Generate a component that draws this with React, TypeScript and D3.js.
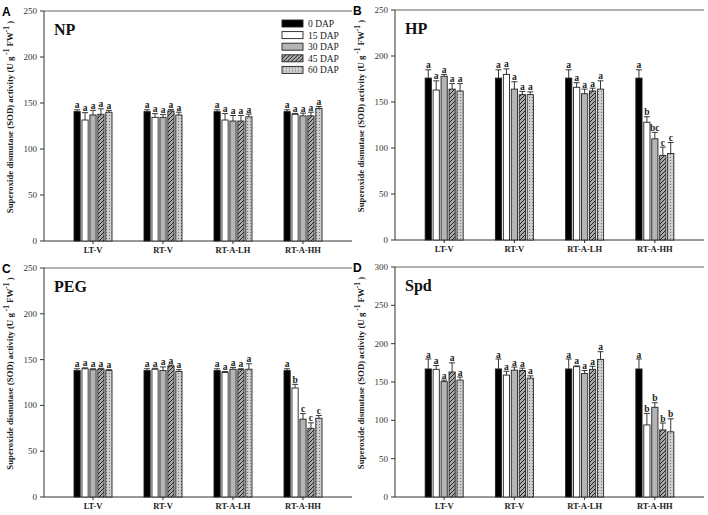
import * as d3 from 'd3';

const categories = ['LT-V', 'RT-V', 'RT-A-LH', 'RT-A-HH'];
const days = ['0 DAP', '15 DAP', '30 DAP', '45 DAP', '60 DAP'];

// NP
const npValues = [
  [140.6, 131.5, 137, 137.7, 140],
  [140.6, 134.4, 134.4, 141.3, 137],
  [140.6, 131.5, 130.4, 130.4, 135],
  [140.6, 137.7, 136, 136, 144.2],
];
const npErrors = [
  [2, 8, 5, 6, 2],
  [2, 4, 3, 1.5, 3],
  [2, 7, 6, 6, 3],
  [2, 1, 3, 4, 2],
];
const npLetters = [
  ['a', 'a', 'a', 'a', 'a'],
  ['a', 'a', 'a', 'a', 'a'],
  ['a', 'a', 'a', 'a', 'a'],
  ['a', 'a', 'a', 'a', 'a'],
];

// HP
const hpValues = [
  [176, 163, 178, 164, 162],
  [176, 180, 164, 158, 158],
  [176, 166, 159, 162, 164],
  [176, 128, 110, 92, 94],
];
const hpErrors = [
  [9, 10, 2, 6, 8],
  [9, 6, 8, 3.5, 3],
  [9, 5, 5, 3, 9],
  [9, 6, 7, 9, 12],
];
const hpLetters = [
  ['a', 'a', 'a', 'a', 'a'],
  ['a', 'a', 'a', 'a', 'a'],
  ['a', 'a', 'a', 'a', 'a'],
  ['a', 'b', 'bc', 'c', 'c'],
];

// PEG
const pegValues = [
  [138, 140, 139, 139.5, 138],
  [138, 139.5, 138, 143, 137],
  [138, 136, 139.5, 139, 139.5],
  [138, 119, 85, 75, 86],
];
const pegErrors = [
  [2, 1, 1, 1, 1],
  [2, 1, 4, 1, 2],
  [2, 1, 2, 1, 6],
  [2, 4, 6, 6, 3],
];
const pegLetters = [
  ['a', 'a', 'a', 'a', 'a'],
  ['a', 'a', 'a', 'a', 'a'],
  ['a', 'a', 'a', 'a', 'a'],
  ['a', 'b', 'c', 'c', 'c'],
];

// Spd
const spdValues = [
  [167, 166.5, 150.5, 163, 152.5],
  [167, 159, 165.5, 165, 155],
  [167, 170, 161, 166.5, 179.5],
  [167, 94, 117, 87.5, 85],
];
const spdErrors = [
  [13, 5, 2, 12, 4],
  [13, 5, 4, 3, 3],
  [13, 1, 4, 4, 10],
  [13, 15, 6, 9, 17],
];
const spdLetters = [
  ['a', 'a', 'a', 'a', 'a'],
  ['a', 'a', 'a', 'a', 'a'],
  ['a', 'a', 'a', 'a', 'a'],
  ['a', 'b', 'b', 'b', 'b'],
];

const yTicks250 = [0, 50, 100, 150, 200, 250];
const yTicks300 = [0, 50, 100, 150, 200, 250, 300];

const fills = ['#000000', '#ffffff', '#b4b4b4', 'url(#hatch)', 'url(#dots)'];
const serif = '"Liberation Serif", "Times New Roman", serif';

interface PanelProps {
  letter: string;
  title: string;
  x0: number;
  x1: number;
  top: number;
  bottom: number;
  yMax: number;
  ticks: number[];
  values: number[][];
  errors: number[][];
  letters: string[][];
  legend?: boolean;
}

function Panel({ letter, title, x0, x1, top, bottom, yMax, ticks, values, errors, letters, legend }: PanelProps) {
  const y = d3.scaleLinear().domain([0, yMax]).range([bottom, top]);
  const x = d3.scalePoint<string>().domain(categories).range([x0, x1]).padding(0.7);
  const inner = d3.scaleBand<string>().domain(days).range([-19, 19]).paddingInner(0.22);
  const bw = inner.bandwidth();

  return (
    <g>
      <text x={x0 - 42} y={top + 5} fontFamily="Arial, sans-serif" fontWeight="bold" fontSize={12}>{letter}</text>
      {/* frame */}
      <line x1={x0} x2={x1} y1={top} y2={top} stroke="#999" strokeWidth={1.5} />
      <line x1={x0} x2={x0} y1={top} y2={bottom} stroke="#333" strokeWidth={1} />
      <line x1={x0} x2={x1} y1={bottom} y2={bottom} stroke="#333" strokeWidth={1} />
      {ticks.map(t => (
        <g key={t}>
          <line x1={x0 - 4} x2={x0} y1={y(t)} y2={y(t)} stroke="#333" />
          <text x={x0 - 7} y={y(t) + 3} textAnchor="end" fontFamily={serif} fontSize={9} fill="#333">{t}</text>
        </g>
      ))}
      {categories.map(c => (
        <g key={c}>
          <line x1={x(c)!} x2={x(c)!} y1={bottom} y2={bottom + 3} stroke="#333" />
          <text x={x(c)!} y={bottom + 12} textAnchor="middle" fontFamily={serif} fontWeight="bold" fontSize={8.5} fill="#222">{c}</text>
        </g>
      ))}
      <text
        transform={`translate(${x0 - 31},${(top + bottom) / 2 - 9}) rotate(-90)`}
        textAnchor="middle" fontFamily={serif} fontWeight="bold" fontSize={8.8} fill="#222"
      >
        Superoxide dismutase (SOD) activity (U g<tspan dy={-4} fontSize={7.5}> -1</tspan><tspan dy={4}> FW</tspan><tspan dy={-4} fontSize={7.5}>-1</tspan><tspan dy={4}> )</tspan>
      </text>
      <text x={x0 + 10} y={top + 24} fontFamily={serif} fontWeight="bold" fontSize={16} fill="#111">{title}</text>
      {categories.map((c, ci) => (
        <g key={c}>
          {days.map((d, di) => {
            const bx = x(c)! + inner(d)!;
            const v = values[ci][di];
            const e = errors[ci][di];
            const cx = bx + bw / 2;
            return (
              <g key={d}>
                <rect x={bx} y={y(v)} width={bw} height={bottom - y(v)} fill={fills[di]} stroke="#222" strokeWidth={0.9} />
                <line x1={cx} x2={cx} y1={y(v)} y2={y(v + e)} stroke="#222" strokeWidth={0.9} />
                <line x1={cx - 3} x2={cx + 3} y1={y(v + e)} y2={y(v + e)} stroke="#222" strokeWidth={0.9} />
                <text x={cx} y={y(v + e) - 1.5} textAnchor="middle" fontFamily={serif} fontWeight="bold" fontSize={9.5} fill="#222">{letters[ci][di]}</text>
              </g>
            );
          })}
        </g>
      ))}
      {legend && days.map((d, di) => (
        <g key={d} transform={`translate(${x0 + 238},${top + 9 + di * 11.6})`}>
          <rect x={0} y={0} width={21} height={7} fill={fills[di]} stroke="#222" strokeWidth={0.9} />
          <text x={26} y={7} fontFamily={serif} fontSize={9.5} fill="#222">{d}</text>
        </g>
      ))}
    </g>
  );
}

export default function App() {
  return (
    <svg width={708} height={515} style={{ position: 'absolute', left: 0, top: 0, background: '#fff' }}>
      <defs>
        <pattern id="hatch" width={4} height={4} patternUnits="userSpaceOnUse">
          <rect width={4} height={4} fill="#a8a8a8" />
          <path d="M-1,1 l2,-2 M0,4 l4,-4 M3,5 l2,-2" stroke="#222" strokeWidth={1} />
        </pattern>
        <pattern id="dots" width={3} height={3} patternUnits="userSpaceOnUse">
          <rect width={3} height={3} fill="#cfcfcf" />
          <circle cx={1.5} cy={1.5} r={0.6} fill="#666" />
        </pattern>
      </defs>
      <rect width={708} height={515} fill="#fff" />
      <Panel letter="A" title="NP" x0={44} x1={352} top={11} bottom={241} yMax={250} ticks={yTicks250}
        values={npValues} errors={npErrors} letters={npLetters} legend />
      <Panel letter="B" title="HP" x0={395} x1={704} top={10} bottom={240} yMax={250} ticks={yTicks250}
        values={hpValues} errors={hpErrors} letters={hpLetters} />
      <Panel letter="C" title="PEG" x0={44} x1={352} top={268} bottom={497} yMax={250} ticks={yTicks250}
        values={pegValues} errors={pegErrors} letters={pegLetters} />
      <Panel letter="D" title="Spd" x0={395} x1={704} top={267} bottom={497} yMax={300} ticks={yTicks300}
        values={spdValues} errors={spdErrors} letters={spdLetters} />
    </svg>
  );
}
